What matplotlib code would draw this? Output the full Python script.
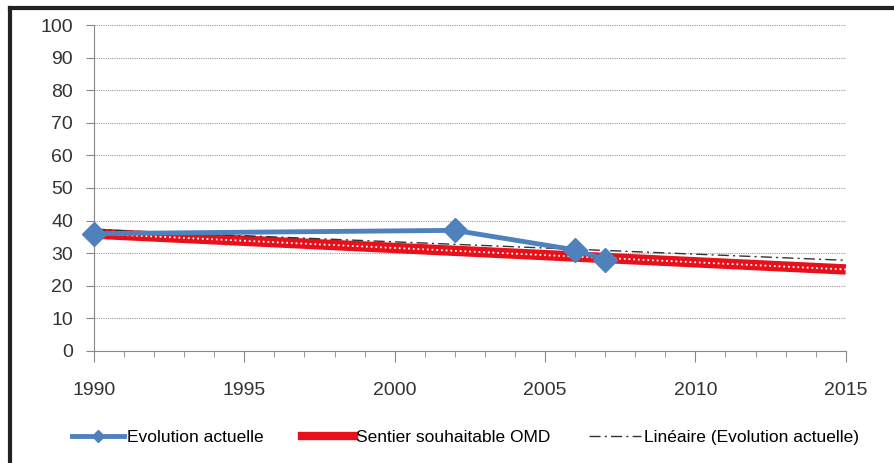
import numpy as np
import matplotlib.pyplot as plt
from matplotlib.lines import Line2D
from matplotlib.ticker import MultipleLocator

plt.rcParams['font.family'] = ['Liberation Sans', 'DejaVu Sans']

# données
annees_obs = [1990, 2002, 2006, 2007]
evolution = [36, 37, 31, 28]
annees_omd = [1990, 2015]
sentier_omd = [36, 25]

bleu = '#4F81BD'
rouge = '#E8101A'

fig = plt.figure(figsize=(8.95, 4.63), dpi=100)
ax = fig.add_axes([0.105, 0.242, 0.84, 0.704])

# sentier OMD : trait rouge épais avec un pointillé blanc
ax.plot(annees_omd, sentier_omd, color=rouge, lw=7.5, solid_capstyle='butt', zorder=3)
ax.plot(annees_omd, sentier_omd, color='white', lw=1.3, ls=(0, (1, 1.6)), zorder=4)

# tendance linéaire de l'évolution
coef = np.polyfit(annees_obs, evolution, 1)
xt = np.array([1990, 2015])
ax.plot(xt, np.polyval(coef, xt), color='#333333', lw=1, ls=(0, (8, 3, 1.5, 3)), zorder=5)

# évolution actuelle
ax.plot(annees_obs, evolution, color=bleu, lw=3.5, marker='D', markersize=12,
        zorder=6, clip_on=False)

ax.set_xlim(1990, 2015)
ax.set_ylim(0, 100)
ax.xaxis.set_major_locator(MultipleLocator(5))
ax.xaxis.set_minor_locator(MultipleLocator(1))
ax.yaxis.set_major_locator(MultipleLocator(10))
ax.grid(axis='y', color='#999999', ls=(0, (1, 1)), lw=0.8)
ax.set_axisbelow(True)
for s in ['top', 'right']:
    ax.spines[s].set_visible(False)
for s in ['left', 'bottom']:
    ax.spines[s].set_color('#888888')
ax.tick_params(axis='both', colors='#888888', labelcolor='#333333', labelsize=14, direction='out')
ax.tick_params(axis='x', which='major', length=8, pad=14)
ax.tick_params(axis='x', which='minor', length=4, color='#888888')
ax.tick_params(axis='y', length=6, pad=9)

handles = [
    Line2D([], [], color=bleu, lw=3.5, marker='D', markersize=6),
    Line2D([], [], color=rouge, lw=6),
    Line2D([], [], color='#333333', lw=1, ls=(0, (8, 3, 1.5, 3))),
]
labels = ['Evolution actuelle', 'Sentier souhaitable OMD', 'Linéaire (Evolution actuelle)']
fig.legend(handles, labels, loc='center', bbox_to_anchor=(0.52, 0.056), ncol=3,
           frameon=False, fontsize=12.5, handlelength=3.0, columnspacing=2.2, handletextpad=0.15)

# cadre noir en haut et à gauche
fig.add_artist(Line2D([0.011, 1.0], [0.982, 0.982], color='#222222', lw=3, transform=fig.transFigure))
fig.add_artist(Line2D([0.011, 0.011], [0.0, 0.982], color='#222222', lw=3, transform=fig.transFigure))

fig.savefig('out.png', dpi=100)
